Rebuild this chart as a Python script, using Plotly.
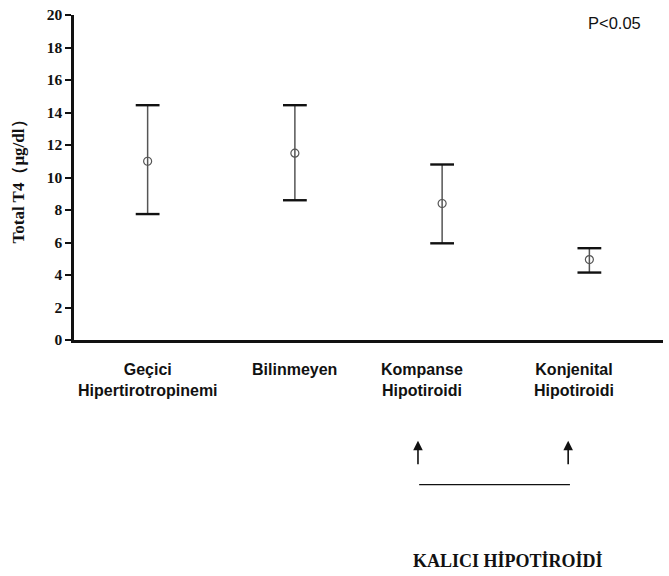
import plotly.graph_objects as go

categories = ["Geçici<br>Hipertirotropinemi", "Bilinmeyen", "Kompanse<br>Hipotiroidi", "Konjenital<br>Hipotiroidi"]
means = [11.0, 11.5, 8.4, 4.95]
upper = [14.45, 14.45, 10.8, 5.65]
lower = [7.75, 8.6, 5.95, 4.15]
y_ticks = list(range(0, 21, 2))

xs = list(range(len(categories)))
err_plus = [u - m for u, m in zip(upper, means)]
err_minus = [m - l for m, l in zip(means, lower)]

fig = go.Figure()
# stems
fig.add_trace(go.Scatter(
    x=xs, y=means, mode="markers",
    marker=dict(symbol="circle-open", size=8, color="#555555", line=dict(width=1.2)),
    error_y=dict(type="data", symmetric=False, array=err_plus, arrayminus=err_minus,
                 color="#555555", thickness=1.5, width=0),
    showlegend=False, hoverinfo="skip"))
# caps
fig.add_trace(go.Scatter(
    x=xs + xs, y=upper + lower, mode="markers",
    marker=dict(symbol="line-ew", size=17, line=dict(width=2.4, color="#111111")),
    showlegend=False, hoverinfo="skip"))

label_shift = [0, 0, -20, -15]
for i, (c, s) in enumerate(zip(categories, label_shift)):
    fig.add_annotation(x=i, y=-0.058, xref="x", yref="paper", text="<b>" + c + "</b>",
                       showarrow=False, xshift=s, xanchor="center", yanchor="top",
                       font=dict(family="Liberation Sans, Arial", size=16, color="#111111"))

fig.add_annotation(x=0.917, y=0.976, xref="paper", yref="paper", text="P<0.05", showarrow=False,
                   xanchor="center", yanchor="middle",
                   font=dict(family="Liberation Sans, Arial", size=16.5, color="#111111"))

# arrows
for xp in [0.584, 0.839]:
    fig.add_annotation(x=xp, y=-0.31, xref="paper", yref="paper", ax=0, ay=25,
                       text="", showarrow=True,
                       arrowhead=2, arrowsize=1.2, arrowwidth=1.6, arrowcolor="#111111")
fig.add_shape(type="line", xref="paper", yref="paper", x0=0.586, x1=0.842, y0=-0.445, y1=-0.445,
              line=dict(color="#111111", width=1.3))
fig.add_annotation(x=0.737, y=-0.68, xref="paper", yref="paper", text="<b>KALICI HİPOTİROİDİ</b>",
                   showarrow=False, xanchor="center", yanchor="middle",
                   font=dict(family="Liberation Serif, Times New Roman", size=18, color="#111111"))

fig.update_layout(
    width=669, height=576,
    margin=dict(l=74, r=6, t=12, b=236),
    plot_bgcolor="white", paper_bgcolor="white",
    xaxis=dict(range=[-0.5, 3.5], showticklabels=False, ticks="", showgrid=False, zeroline=False,
               showline=True, linecolor="#111111", linewidth=2.5),
    yaxis=dict(range=[0, 20], tickvals=y_ticks, ticktext=["<b>%d</b>" % v for v in y_ticks],
               ticks="outside", ticklen=6, tickwidth=2,
               tickcolor="#111111", showgrid=False, zeroline=False, showline=True,
               linecolor="#111111", linewidth=2.5,
               tickfont=dict(family="Liberation Serif, Times New Roman", size=15.5, color="#111111"),
               title=dict(text="<b>Total T4（μg/dl）</b>", standoff=18,
                          font=dict(family="Liberation Serif, Times New Roman", size=17, color="#111111"))),
)

fig.write_html("out.html", config={"displayModeBar": False},
               post_script="document.body.style.margin='0';document.body.style.overflow='hidden';")
